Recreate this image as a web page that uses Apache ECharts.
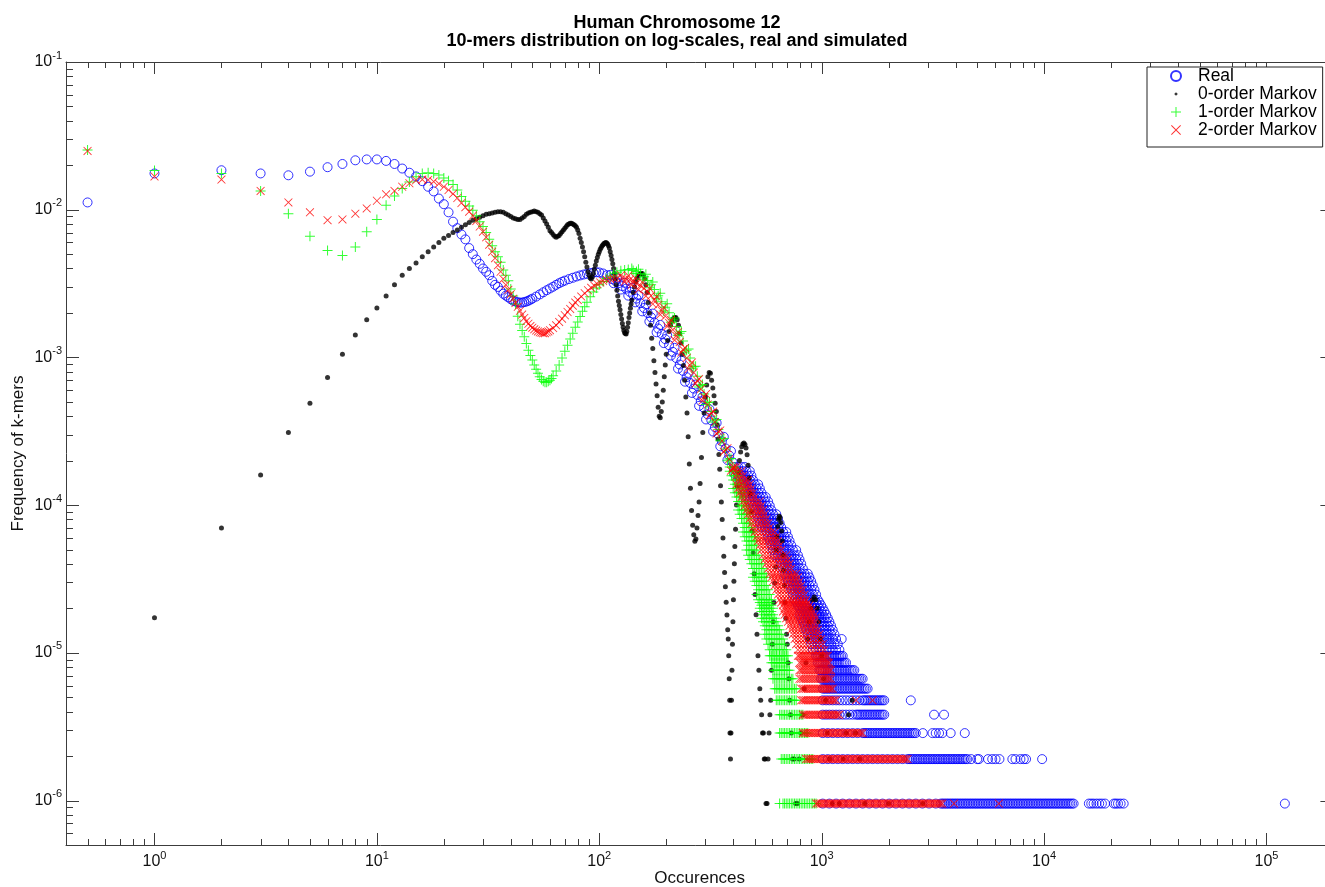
<!DOCTYPE html>
<html><head><meta charset="utf-8">
<script src="https://cdn.jsdelivr.net/npm/echarts@6/dist/echarts.min.js"></script>
<style>html,body{margin:0;padding:0;background:#fff;overflow:hidden}#c{width:1325px;height:887px}</style>
</head><body><div id="c"></div>
<script>
// total number of possible 10-mers (4^10): converts k-mer counts into frequencies
const KMERS = 1048576;

// ---- tick labels / decades ----
const xDecades = [1, 10, 100, 1000, 10000, 100000];
const yDecades = [1e-6, 1e-5, 1e-4, 1e-3, 1e-2, 1e-1];
const xMinorBases = [0.1, 1, 10, 100, 1000, 10000];
const yMinorBases = [1e-7, 1e-6, 1e-5, 1e-4, 1e-3, 1e-2];
const minorMultipliers = [2, 3, 4, 5, 6, 7, 8, 9];

// ---- Real: [occurrences, frequency] ----
const realFreq = [
[0.5,0.0112],[1,0.0176],[2,0.0185],[3,0.0176],[4,0.0171],[5,0.0181],[6,0.0194],[7,0.0204],[8,0.0216],[9,0.0219],[10,0.0219],[11,0.0214],[12,0.0204],[13,0.019],[14,0.0178],[15,0.0168],[16,0.0156],[17,0.0143],[18,0.0133],[19,0.0119],[20,0.0109],[21,0.0096],[22,0.0083],[23,0.0075],[24,0.0068],[25,0.0063],[26,0.0055],[27,0.005],[28,0.0046],[29,0.0043],[30,0.004],[31,0.0038],[32,0.0036],[33,0.0033],[34,0.0031],[35,0.003],[36,0.00283],[37,0.0027],[38,0.00262],[39,0.00255],[40,0.00248],[41,0.00242],[42,0.00239],[43,0.00236],[44,0.00235],[45,0.00235],[46,0.00237],[47,0.00239],[48,0.00242],[49,0.00246],[50,0.0025],[52,0.00258],[54,0.00267],[56,0.00276],[58,0.00285],[60,0.00293],[62,0.00301],[64,0.0031],[66,0.00318],[68,0.00325],[70,0.00331],[73,0.00339],[76,0.00346],[79,0.00353],[82,0.00359],[85,0.00364],[88,0.00368],[91,0.00372],[94,0.00375],[97,0.00377],[100,0.00376],[104,0.0037],[108,0.0036],
[112,0.00362],[116,0.00318],[120,0.00345],[125,0.00288],[130,0.0032],[135,0.00262],[140,0.00295],[145,0.00236],[150,0.00263],[156,0.00205],[162,0.00228],[168,0.00175],[174,0.00198],[181,0.00148],[188,0.00166],[195,0.00125],[202,0.00141],[210,0.00103],[218,0.00116],[226,0.00084],[234,0.00095],[243,0.000685],[252,0.000785],[261,0.000575],[271,0.000655],[281,0.00047],[291,0.00054],[302,0.00038],[313,0.000445],[325,0.000315],[337,0.00036],[350,0.00025],[363,0.00029],[377,0.000202],[391,0.000232],[405,0.000163],
[114,0.0034],[118,0.0033],[122,0.00318],[127,0.00304],[132,0.00292],[137,0.00278],[142,0.00265],[147,0.0025],[153,0.00233],[159,0.00216],[165,0.002],[171,0.00187],[177,0.00172],[184,0.00157],[191,0.00144],[198,0.00133],[206,0.00121],[214,0.00109],[222,0.00099],[230,0.000895],[238,0.00081],[247,0.000735],[256,0.000672],[266,0.000615],[276,0.000557],[286,0.000505],[296,0.000455],[307,0.000412],[319,0.000375],[331,0.000337],[343,0.000302],[356,0.00027],[370,0.000242],[384,0.000217],[398,0.000195]
];
// Real, low counts: [k-mer count, occurrences...]
const realRows = [
[190,407,421,436,451],[178,414,428,443,459,475],[166,421,436,451,467,483],[155,428,443,459,475,491],[145,436,451,467,483,500,518],[136,443,459,475,491,509,527],[127,451,467,483,500,518,536],[119,459,475,491,509,527,545,560],[111,474,483,500,518,536,555,574],[104,491,509,527,545,564,584],[97,500,518,536,555,574,594],[91,509,527,545,564,584,604,625],[85,518,536,555,574,594,615,636],[79,527,545,564,584,604,625,647],[74,536,555,574,594,615,636,658],[69,564,584,604,625,647,670,693],[64,574,594,615,636,658,681,705],[60,584,604,625,647,670,693,717],[56,594,615,636,658,681,705,730],[52,604,625,647,670,693,717,742,768],[48,615,636,658,681,705,730,755,782],[45,647,670,693,717,742,768,795],[42,658,681,705,730,755,782,809],[39,670,693,717,742,768,795,823],[36,681,705,730,755,782,809,837,866],[34,693,717,742,768,795,823,851,881],[32,705,730,755,782,809,837,866,897],[30,717,742,768,795,823,851,881,912],[28,730,755,782,809,837,866,897,928],[26,742,768,795,823,851,881,912,944],[24,755,782,809,837,866,897,928,960],[23,768,795,823,851,881,912,944,977],[22,782,809,837,866,897,928,960,994],[21,795,823,851,881,912,944,977,1011],[20,809,837,866,897,928,960,994,1029],[19,795,823,851,881,912,944,977,1011,1047],[18,809,837,866,897,928,960,994,1029,1065],[17,823,851,881,912,944,977,1011,1047,1083],[16,837,866,897,928,960,994,1029,1065,1102],[15,851,881,912,944,977,1011,1047,1083,1121],[14,866,897,928,960,994,1029,1065,1102,1141],[13,881,912,944,977,1011,1047,1083,1121,1161,1230],[12,897,928,960,994,1029,1065,1102,1141,1181],[11,912,944,977,1011,1047,1083,1121,1161,1201],
[10,944,960,977,994,1011,1029,1047,1065,1083,1102,1121,1141,1161,1181,1201,1222,1243],
[9,960,977,994,1011,1029,1047,1065,1083,1102,1121,1141,1161,1181,1201,1222,1243,1265,1287],
[8,977,994,1011,1029,1047,1065,1083,1102,1121,1141,1161,1181,1201,1222,1243,1265,1287,1309,1332,1355,1378,1402],
[7,994,1011,1029,1047,1065,1083,1102,1121,1141,1161,1181,1201,1222,1243,1265,1287,1309,1332,1355,1378,1402,1426,1451,1476,1502,1528],
[6,1011,1029,1047,1065,1083,1102,1121,1141,1161,1181,1201,1222,1243,1265,1287,1309,1332,1355,1378,1402,1426,1451,1476,1502,1528,1555,1581,1609],
[5,1011,1047,1083,1121,1161,1201,1243,1287,1332,1378,1426,1476,1528,1555,1581,1609,1637,1665,1694,1724,1754,1784,1815,1846,1878,1911,2516],
[4,1011,1047,1083,1121,1161,1201,1243,1287,1332,1378,1426,1451,1476,1502,1528,1555,1581,1609,1637,1665,1694,1724,1754,1784,1815,1846,1878,1911,3202,3550],
[3,1011,1065,1121,1181,1243,1309,1378,1451,1528,1555,1581,1609,1637,1665,1694,1724,1754,1784,1815,1846,1878,1911,1944,1978,2012,2047,2083,2119,2156,2193,2231,2270,2309,2349,2390,2431,2473,2516,2560,2604,2650,2850,3150,3258,3372,3490,3803,4400],
[2,1011,1065,1121,1181,1243,1309,1378,1451,1528,1609,1694,1784,1878,1978,2083,2193,2309,2431,2473,2516,2560,2604,2650,2696,2743,2790,2839,2888,2938,2989,3041,3093,3147,3202,3258,3314,3372,3430,3490,3550,3612,3674,3738,3803,3869,3936,4005,4074,4145,4216,4290,4364,4440,4516,4700,5007,5095,5600,5846,6051,6300,7200,7439,7831,8105,8300,9800],
[1,1011,1083,1161,1243,1332,1426,1528,1637,1754,1878,2012,2156,2309,2473,2650,2839,3041,3258,3430,3490,3550,3612,3674,3738,3803,3869,3936,4005,4074,4145,4216,4290,4364,4440,4516,4595,4674,4756,4838,4922,5007,5095,5183,5273,5364,5458,5552,5649,5746,5846,5947,6051,6155,6263,6371,6482,6594,6709,6825,6944,7063,7187,7311,7439,7567,7699,7831,7969,8105,8248,8389,8536,8683,8835,8987,9144,9301,9464,9627,9796,9964,10139,10313,10493,10674,10861,11047,11241,11434,11634,11834,12041,12248,12463,12677,12899,13121,13351,13580,15900,16300,16700,17200,17700,18200,18800,20600,21000,21500,22100,22800,121000]
];

// ---- 0-order Markov: [occurrences, frequency] then [occurrences, count] ----
const blackFreq = [
[1,1.73e-5],[2,7.0e-5],[3,1.6e-4],[4,3.1e-4],[5,4.9e-4],[6,7.3e-4],[7,1.05e-3],[8,1.42e-3],[9,1.8e-3],[10,2.16e-3],[11,2.6e-3],[12,3.1e-3],[13,3.6e-3],[14,4.0e-3],[15,4.35e-3],[16,4.8e-3],[17,5.2e-3],[18,5.6e-3],[19,6.0e-3],[20,6.4e-3],[21,6.7e-3],[22,7.0e-3],[23,7.3e-3],[24,7.6e-3],[25,7.9e-3],[26,8.2e-3],[27,8.5e-3],[28,8.7e-3],[29,8.9e-3],[30,9.1e-3],[31,9.3e-3],[32,9.4e-3],[33,9.5e-3],[34,9.6e-3],[35,9.7e-3],[36,9.7e-3],[37,9.6e-3],[38,9.4e-3],[39,9.2e-3],[40,9.0e-3],[41,8.8e-3],[42,8.7e-3],[43,8.6e-3],[44,8.6e-3],[45,8.8e-3],[46,9.0e-3],[47,9.3e-3],[48,9.5e-3],[49,9.6e-3],[50,9.7e-3],[51,9.8e-3],[52,9.7e-3],[53,9.6e-3],[54,9.4e-3],[55,9.2e-3],[56,8.8e-3],[57,8.4e-3],[58,8.0e-3],[59,7.6e-3],[60,7.2e-3],[61,7.0e-3],[62,6.8e-3],[63,6.6e-3],[64,6.5e-3],[65,6.6e-3],[66,6.7e-3],[67,6.9e-3],[68,7.1e-3],[69,7.3e-3],[70,7.5e-3],[71,7.7e-3],[72,7.9e-3],[73,8.0e-3],[74,8.1e-3],[75,8.1e-3],[76,8.0e-3],[77,7.9e-3],[78,7.8e-3],[79,7.6e-3],[80,7.3e-3],[81,6.9e-3],[82,6.4e-3],[83,6.0e-3],[84,5.6e-3],[85,5.2e-3],[86,4.8e-3],[87,4.4e-3],[88,4.1e-3],[89,3.8e-3],[90,3.6e-3],[91,3.45e-3],[92,3.4e-3],[93,3.5e-3],[94,3.7e-3],[95,3.95e-3],[96,4.2e-3],[97,4.5e-3],[98,4.75e-3],[99,5.0e-3],[100,5.2e-3],[101,5.4e-3],[102,5.55e-3],[103,5.7e-3],[104,5.8e-3],[105,5.9e-3],[106,5.95e-3],[107,6.0e-3],[108,5.95e-3],[109,5.85e-3],[110,5.7e-3],[111,5.5e-3],[112,5.2e-3],[113,4.9e-3],[114,4.6e-3],[115,4.3e-3],[116,4.0e-3],[117,3.7e-3],[118,3.4e-3],[119,3.1e-3],[120,2.85e-3],[121,2.6e-3],[122,2.4e-3],[123,2.25e-3],[124,2.1e-3],[125,1.95e-3],[126,1.82e-3],[127,1.7e-3],[128,1.6e-3],[129,1.52e-3],[130,1.47e-3],[131,1.45e-3],[132,1.44e-3],[133,1.5e-3],[134,1.6e-3],[135,1.72e-3],[136,1.86e-3],[137,2.0e-3],[138,2.15e-3],[139,2.3e-3],[140,2.45e-3],[142,2.75e-3],[144,3.0e-3],[146,3.25e-3],[148,3.45e-3],[150,3.6e-3],[152,3.68e-3],[154,3.72e-3],[156,3.7e-3],[158,3.6e-3],[160,3.4e-3],[162,3.1e-3],[164,2.75e-3],[166,2.35e-3],[168,2.0e-3],[170,1.65e-3],[172,1.35e-3],[174,1.15e-3],[176,9.5e-4],[178,7.9e-4],[180,6.6e-4],[182,5.5e-4],[184,4.6e-4],[186,4.0e-4],[188,3.9e-4],[190,4.3e-4],[192,5.0e-4],[194,6.0e-4],[196,7.4e-4],[198,8.9e-4],[200,1.05e-3],[203,1.3e-3],[206,1.5e-3],[209,1.65e-3],[212,1.76e-3],[215,1.83e-3],[218,1.86e-3],[221,1.86e-3],[224,1.8e-3],[227,1.65e-3],[230,1.45e-3],[233,1.25e-3],[236,1.05e-3],[239,8.8e-4],[242,7.0e-4],[245,5.4e-4],[248,4.2e-4],[251,2.9e-4],[254,1.9e-4],[257,1.3e-4],[260,9.2e-5],[263,7.3e-5],[266,6.3e-5],[269,5.7e-5],[272,5.9e-5],[275,7.0e-5],[278,8.5e-5],[281,1.05e-4],[284,1.4e-4],[288,2.1e-4],[292,3.1e-4],[296,4.2e-4],[300,5.4e-4],[304,6.5e-4],[308,7.4e-4],[312,7.9e-4],[316,7.8e-4],[320,7.0e-4],[324,6.2e-4],[328,5.5e-4],[332,4.9e-4],[336,4.3e-4],[339,3.5e-4],[342,2.8e-4],[345,2.2e-4],[348,1.75e-4],[351,1.35e-4],[354,1.05e-4],[357,8.0e-5],[360,6.0e-5],[363,4.5e-5],[366,3.5e-5],[369,2.8e-5],[372,2.2e-5],[375,1.8e-5]
];
const blackCount = [
[378,15],[380,13],[382,10],[384,7],[386,5],[387,3],[389,2],[391,3],[393,5],[395,8],[397,12],[399,17],[401,24],[403,32],[405,42],[407,55],[410,72],[414,105],[418,140],[422,175],[427,210],[432,240],[437,260],[442,272],[447,276],[452,270],[457,255],[462,230],[467,195],[472,160],[477,125],[482,95],[487,70],[492,50],[497,36],[502,26],[507,19],[512,14],[517,10],[522,8],[527,6],[532,5],[537,4],[542,3],[547,3],[552,2],[557,2],[562,1],[568,1],[574,2],[580,3],[585,4],[590,5],[595,8],[600,12],[605,17],[610,23],[615,31],[620,40],[625,52],[630,64],[635,75],[640,84],[645,88],[650,86],[655,80],[660,70],[665,60],[670,48],[675,38],[680,30],[685,23],[690,18],[695,14],[700,12],[706,9],[712,7],[718,5],[724,4],[730,3],[740,2],[752,2],[764,1],[778,1],[792,2],[806,3],[820,4],[835,6],[850,9],[865,13],[880,17],[895,21],[910,24],[925,25],[940,24],[955,21],[970,17],[985,13],[1000,10],[1020,7],[1040,5],[1060,3],[1085,2],[1115,1],[1200,1],[1250,2],[1290,3],[1320,4],[1370,5],[1420,3],[1480,2],[1560,1],[2000,1],[2850,1]
];

// ---- 1-order Markov ----
const greenFreq = [
[0.5,0.0254],[1,0.0184],[2,0.0176],[3,0.0134],[4,0.0094],[5,0.0066],[6,0.0053],[7,0.0049],[8,0.0056],[9,0.0071],[10,0.0086],[11,0.0107],[12,0.0124],[13,0.0139],[14,0.0154],[15,0.0167],[16,0.0176],[17,0.0178],[18,0.0176],[19,0.0172],[20,0.0164],[21,0.0157],[22,0.0148],[23,0.0136],[24,0.0123],[25,0.0114],[26,0.0106],[27,0.0099],[28,0.0091],[29,0.0083],[30,0.0077],[31,0.007],[32,0.0063],[33,0.0057],[34,0.0052],[35,0.0048],[36,0.0044],[37,0.0039],[38,0.0036],[39,0.0033],[40,0.0029],[41,0.0026],[42,0.0023],[43,0.0019],[44,0.00168],[45,0.00152],[46,0.00138],[47,0.00124],[48,0.00112],[49,0.00103],[50,0.00096],[51,0.00089],[52,0.00083],[53,0.00078],[54,0.00074],[55,0.00071],[56,0.00069],[57,0.00068],[58,0.00068],[59,0.00069],[60,0.0007],[61,0.00072],[62,0.00075],[64,0.00081],[66,0.00089],[68,0.00099],[70,0.0011],[72,0.00121],[74,0.00133],[76,0.00146],[78,0.0016],[80,0.00174],[82,0.00189],[84,0.00205],[86,0.0022],[88,0.00236],[91,0.00257],[94,0.00277],[97,0.00295],[100,0.0031],[104,0.00327],[108,0.00342],[112,0.00356],[116,0.00368],[120,0.00377],[125,0.00386],[130,0.00391],[135,0.00393],
[140,0.004],[145,0.0037],[150,0.00395],[156,0.00338],[162,0.00366],[168,0.00296],[174,0.00324],[181,0.0025],[188,0.00272],[195,0.00206],[202,0.00231],[210,0.00173],[218,0.00185],[226,0.00141],[234,0.0015],[243,0.00109],[252,0.00114],[261,0.000845],[271,0.00087],[281,0.00063],[291,0.000655],[302,0.00048],[313,0.0005],[325,0.000365],[337,0.00038],[350,0.000273],[363,0.000283],[377,0.0002],[391,0.000207],
[142,0.00388],[147,0.00382],[153,0.00368],[159,0.00351],[165,0.00332],[171,0.00311],[177,0.00288],[184,0.00262],[191,0.00238],[198,0.00219],[206,0.00201],[214,0.0018],[222,0.00162],[230,0.00146],[238,0.00129],[247,0.00112],[256,0.00099],[266,0.000865],[276,0.000745],[286,0.000645],[296,0.000565],[307,0.000495],[319,0.00043],[331,0.000375],[343,0.000325],[356,0.00028],[370,0.00024],[384,0.000205]
];
const greenRows = [
[190,386,397,407],[178,386,400,414],[166,393,407,421],[155,400,414,428],[145,407,421,436],[136,400,414,428,443],[127,407,421,436,450],[119,414,428,443],[111,421,436,451],[104,428,443,459],[97,421,436,451,467],[91,428,443,459,475],[85,436,451,467],[79,443,459,475],[74,451,467,483],[69,443,459,475,491],[64,451,467,483,500],[60,459,475,491,507],[56,467,483,500],[52,459,475,491,509],[48,467,483,500,518],[45,475,491,509,527],[42,483,500,518,536],[39,491,509,527,545],[36,500,518,536,555],[34,491,509,527,545,564],[32,500,518,536,555],[30,509,527,545,564],[28,518,536,555,574],[26,509,527,545,564,584],[24,518,536,555,574,594],[23,527,545,564,584],[22,536,555,574,594],[21,527,545,564,584,604],[20,536,555,574,594],[19,545,564,584,604],[18,536,555,574,594,615],[17,545,564,584,604,625],[16,555,574,594,615,636],[15,564,584,604,625,647],[14,555,574,594,615,636,658],[13,564,584,604,625,647,670],[12,574,594,615,636,658,681],[11,584,604,625,647,670,693],
[10,584,594,604,615,625,636,647,658,670,681,693,705],
[9,594,604,615,625,636,647,658,670,681,693,705],
[8,604,615,625,636,647,658,670,681,693,705,717],
[7,604,615,625,636,647,658,670,681,693,705,717,730,742],
[6,615,625,636,647,658,670,681,693,705,717,730,742,755,768],
[5,625,636,647,658,670,681,693,705,717,730,742,755,768],
[4,647,658,670,681,693,705,717,730,742,755,768,782,795,809,823],
[3,647,658,670,681,693,705,717,730,742,755,768,782,795,809,823,837,851,866],
[2,658,670,681,693,705,717,730,742,755,768,782,795,809,823,837,851,866,881,897,912],
[1,647,670,681,693,705,717,730,742,755,768,782,795,809,823,837,851,866,881,897,912,928,944]
];

// ---- 2-order Markov ----
const redFreq = [
[0.5,0.025],[1,0.0168],[2,0.016],[3,0.0134],[4,0.0112],[5,0.0096],[6,0.0085],[7,0.0086],[8,0.0094],[9,0.0102],[10,0.0115],[11,0.0127],[12,0.0134],[13,0.0143],[14,0.0151],[15,0.0158],[16,0.016],[17,0.0159],[18,0.0155],[19,0.015],[20,0.0143],[21,0.0136],[22,0.0128],[23,0.012],[24,0.0111],[25,0.0104],[26,0.0097],[27,0.0091],[28,0.0084],[29,0.0077],[30,0.0071],[31,0.0065],[32,0.0058],[33,0.0052],[34,0.0047],[35,0.0042],[36,0.0038],[37,0.0034],[38,0.0031],[39,0.00287],[40,0.00268],[41,0.0025],[42,0.00234],[43,0.0022],[44,0.00207],[45,0.00195],[46,0.00185],[47,0.00176],[48,0.00169],[49,0.00163],[50,0.00159],[51,0.00155],[52,0.00152],[53,0.0015],[54,0.00148],[55,0.00147],[56,0.00146],[57,0.00146],[58,0.00148],[59,0.0015],[60,0.00153],[62,0.00158],[64,0.00165],[66,0.00174],[68,0.00183],[70,0.00193],[72,0.00203],[74,0.00213],[76,0.00224],[78,0.00235],[80,0.00245],[83,0.00258],[86,0.00272],[89,0.00285],[92,0.00296],[95,0.00306],[98,0.00314],[101,0.00322],[104,0.00329],[108,0.00335],[112,0.0034],[116,0.00343],[120,0.00345],
[125,0.0036],[130,0.00325],[135,0.00358],[140,0.0031],[145,0.00345],[150,0.00288],[156,0.00324],[162,0.0026],[168,0.00294],[174,0.0023],[181,0.00258],[188,0.00195],[195,0.00218],[202,0.00162],[210,0.00179],[218,0.00131],[226,0.00148],[234,0.00108],[243,0.00116],[252,0.000835],[261,0.000925],[271,0.000665],[281,0.000715],[291,0.00051],[302,0.000565],[313,0.000405],[325,0.00043],[337,0.000305],[350,0.00032],[363,0.00023],[377,0.000243],[391,0.000171],[405,0.00018],
[127,0.00345],[132,0.00341],[137,0.00335],[142,0.00327],[147,0.00318],[153,0.00306],[159,0.00293],[165,0.00278],[171,0.00262],[177,0.00245],[184,0.00226],[191,0.00207],[198,0.0019],[206,0.00171],[214,0.00154],[222,0.0014],[230,0.00127],[238,0.00113],[247,0.00099],[256,0.000885],[266,0.00079],[276,0.000695],[286,0.00061],[296,0.00054],[307,0.00048],[319,0.00042],[331,0.000365],[343,0.000315],[356,0.000272],[370,0.000237],[384,0.000205],[398,0.000177]
];
const redRows = [
[190,400,414],[178,407,421,436],[166,414,428,443],[155,421,436,451,467],[145,414,428,443,459,475],[136,421,436,451,467,483],[127,428,443,459,475,491],[119,436,451,467,483,500],[111,443,459,475,491,509,527],[104,451,467,483,500,518,536],[97,459,475,491,509,527,545],[91,467,483,500,518,536,555],[85,475,491,509,527,545,564],[79,483,500,518,536,555,574],[74,491,509,527,545,564,584],[69,500,518,536,555,574,594,615],[64,509,527,545,564,584,604,625],[60,518,536,555,574,594,615,636],[56,527,545,564,584,604,625,647],[52,536,555,574,594,615,636,658],[48,545,564,584,604,625,647,670,693],[45,555,574,594,615,636,658,681,705],[42,564,584,604,625,647,670,693,717],[39,574,594,615,636,658,681,705,730],[36,584,604,625,647,670,693,717,742,768],[34,594,615,636,658,681,705,730,755,782],[32,604,625,647,670,693,717,742,768,795],[30,615,636,658,681,705,730,755,782,809],[28,625,647,670,693,717,742,768,795,823],[26,636,658,681,705,730,755,782,809,837],[24,647,670,693,717,742,768,795,823,851],[23,658,681,705,730,755,782,809,837,866],[22,670,693,717,742,768,795,823,851,881],[21,681,705,730,755,782,809,837,866,897],[20,670,693,717,742,768,795,823,851,881,912],[19,681,705,730,755,782,809,837,866,897,928],[18,693,717,742,768,795,823,851,881,912,938],[17,705,730,755,782,809,837,866,897,928],[16,717,742,768,795,823,851,881,912,944],[15,730,755,782,809,837,866,897,928,960],[14,742,768,795,823,851,881,912,944,977],[13,755,782,809,837,866,897,928,960,994],[12,768,795,823,851,881,912,944,977,1011],[11,782,809,837,866,897,928,960,994,1029],
[10,782,795,809,823,837,851,866,881,897,912,928,944,960,977,994,1011,1029,1047,1065],
[9,795,809,823,837,851,866,881,897,912,928,944,960,977,994,1011,1029,1047,1065,1083],
[8,795,809,823,837,851,866,881,897,912,928,944,960,977,994,1011,1029,1047,1065,1083,1102],
[7,795,809,823,837,851,866,881,897,912,928,944,960,977,994,1011,1029,1047,1065,1083,1102],
[6,809,823,837,851,866,881,897,912,928,944,960,977,994,1011,1029,1047,1065,1083,1102,1121],
[5,809,823,837,851,866,881,897,912,928,944,960,977,994,1011,1029,1047,1065,1083,1102,1121,1141,1161,1426,1694],
[4,823,837,851,866,881,897,912,928,944,960,977,994,1011,1029,1047,1065,1083,1102,1121,1141,1161,1181,1201],
[3,823,837,851,866,881,897,912,928,944,960,977,994,1011,1029,1047,1065,1083,1102,1121,1141,1161,1181,1201,1222,1243,1265,1287,1309,1332,1355,1378,1402,1426,1451,1476,1502,1528],
[2,851,866,881,897,912,928,944,960,977,994,1011,1029,1047,1065,1083,1102,1121,1141,1161,1181,1201,1222,1243,1265,1287,1309,1332,1355,1378,1402,1426,1451,1476,1502,1528,1555,1581,1609,1637,1665,1694,1724,1754,1784,1815,1846,1878,1911,1944,1978,2012,2047,2083,2119,2156,2193,2231,2270,2309,2349,2390,2431],
[1,944,960,977,994,1011,1029,1047,1065,1083,1102,1121,1141,1161,1181,1201,1222,1243,1265,1287,1309,1332,1355,1378,1402,1426,1451,1476,1502,1528,1555,1581,1609,1637,1665,1694,1724,1754,1784,1815,1846,1878,1911,1944,1978,2012,2047,2083,2119,2156,2193,2231,2270,2309,2349,2390,2431,2473,2516,2560,2604,2650,2696,2743,2790,2839,2888,2938,2989,3041,3093,3147,3202,3258,3314,3372,3430,3490,3936,6263]
];

// ---------------- build ----------------
function rowsToPoints(rows) {
  const pts = [];
  rows.forEach(r => { for (let i = 1; i < r.length; i++) pts.push([r[i], r[0] / KMERS]); });
  return pts;
}
const realData = realFreq.concat(rowsToPoints(realRows));
const blackData = blackFreq.concat(blackCount.map(p => [p[0], p[1] / KMERS]));
const greenData = greenFreq.concat(rowsToPoints(greenRows));
const redData = redFreq.concat(rowsToPoints(redRows));

const X_MIN = 0.4, X_MAX = 2e5, Y_MIN = 5e-7, Y_MAX = 0.1;
const FONT = 'Liberation Sans, Arial, sans-serif';
const AXIS_COLOR = '#3c3c3c';

const tickData = [];
xDecades.forEach(v => tickData.push([v, 1e-3, 0]));
xMinorBases.forEach(b => minorMultipliers.forEach(m => { const v = b * m; if (v > X_MIN * 1.001 && v < X_MAX * 0.999) tickData.push([v, 1e-3, 1]); }));
yDecades.forEach(v => tickData.push([1, v, 2]));
yMinorBases.forEach(b => minorMultipliers.forEach(m => { const v = b * m; if (v > Y_MIN * 1.001 && v < Y_MAX * 0.999) tickData.push([1, v, 3]); }));

function powLabel(v) {
  const e = Math.log10(v), r = Math.round(e);
  if (Math.abs(e - r) > 1e-6) return '';
  return '{b|10}{s|' + r + '}';
}
const labelRich = {
  b: {fontSize: 16, lineHeight: 24, fontFamily: FONT, color: '#111'},
  s: {fontSize: 11, lineHeight: 11, verticalAlign: 'top', fontFamily: FONT, color: '#111'}
};

const PLUS = 'path://M0,4.5H10V5.5H0Z M4.5,0H5.5V10H4.5Z';
const CROSS = 'path://M0.7,0L5,4.3L9.3,0L10,0.7L5.7,5L10,9.3L9.3,10L5,5.7L0.7,10L0,9.3L4.3,5L0,0.7Z';
const DOT_ICON = 'path://M0,0M10,10M5,3.2L6.8,5L5,6.8L3.2,5Z';

function renderTicks(params, api) {
  const cs = params.coordSys;
  const kind = api.value(2);
  const style = {stroke: AXIS_COLOR, lineWidth: 1};
  const ch = [];
  if (kind < 2) {
    const len = kind === 0 ? 12 : 6;
    const px = Math.round(api.coord([api.value(0), 1e-3])[0]) + 0.5;
    const yb = cs.y + cs.height, yt = cs.y;
    ch.push({type: 'line', shape: {x1: px, y1: yb, x2: px, y2: yb - len}, style});
    ch.push({type: 'line', shape: {x1: px, y1: yt, x2: px, y2: yt + len}, style});
  } else {
    const len = kind === 2 ? 13 : 7;
    const py = Math.round(api.coord([1, api.value(1)])[1]) + 0.5;
    const xl = cs.x, xr = cs.x + cs.width;
    ch.push({type: 'line', shape: {x1: xl, y1: py, x2: xl + len, y2: py}, style});
    ch.push({type: 'line', shape: {x1: xr, y1: py, x2: xr - len, y2: py}, style});
  }
  return {type: 'group', children: ch};
}

const chart = echarts.init(document.getElementById('c'), null, {renderer: 'canvas'});
chart.setOption({
  animation: false,
  backgroundColor: '#fff',
  title: {
    text: 'Human Chromosome 12\n10-mers distribution on log-scales, real and simulated',
    left: 672, top: 9, textAlign: 'center',
    textStyle: {fontSize: 18, fontWeight: 'bold', lineHeight: 18, fontFamily: FONT, color: '#000'}
  },
  legend: {
    data: [
      {name: 'Real'},
      {name: '0-order Markov', icon: DOT_ICON},
      {name: '1-order Markov'},
      {name: '2-order Markov'}
    ],
    orient: 'vertical', left: 1147, top: 67,
    itemWidth: 10, itemHeight: 10, itemGap: 0,
    padding: [0, 6, 8, 23],
    borderColor: '#222', borderWidth: 1, backgroundColor: '#fff',
    selectedMode: false,
    textStyle: {fontSize: 17.5, lineHeight: 18, fontFamily: FONT, color: '#000', padding: [0, 0, 0, 12]}
  },
  grid: {left: 66, right: -8.4, top: 62, bottom: 42, containLabel: false, outerBoundsMode: 'none'},
  xAxis: [
    {type: 'log', min: X_MIN, max: X_MAX, position: 'bottom',
     name: 'Occurences', nameLocation: 'middle', nameGap: 25, nameMoveOverlap: false,
     nameTextStyle: {fontSize: 17, fontFamily: FONT, color: '#111'},
     axisLine: {show: true, lineStyle: {color: AXIS_COLOR, width: 1}},
     axisTick: {show: false}, splitLine: {show: false}, minorTick: {show: false},
     axisLabel: {formatter: powLabel, rich: labelRich, margin: 5, hideOverlap: false}},
    {type: 'log', min: X_MIN, max: X_MAX, position: 'top',
     axisLine: {show: true, lineStyle: {color: AXIS_COLOR, width: 1}},
     axisTick: {show: false}, splitLine: {show: false}, axisLabel: {show: false}}
  ],
  yAxis: [
    {type: 'log', min: Y_MIN, max: Y_MAX, position: 'left',
     name: 'Frequency of k-mers', nameLocation: 'middle', nameGap: 39, nameMoveOverlap: false,
     nameTextStyle: {fontSize: 17, fontFamily: FONT, color: '#111'},
     axisLine: {show: true, lineStyle: {color: AXIS_COLOR, width: 1}},
     axisTick: {show: false}, splitLine: {show: false},
     axisLabel: {formatter: powLabel, rich: labelRich, margin: 4, hideOverlap: false}},
    {type: 'log', min: Y_MIN, max: Y_MAX, position: 'right',
     axisLine: {show: true, lineStyle: {color: AXIS_COLOR, width: 1}},
     axisTick: {show: false}, splitLine: {show: false}, axisLabel: {show: false}}
  ],
  series: [
    {type: 'custom', name: 'ticks', renderItem: renderTicks, data: tickData,
     encode: {x: 0, y: 1}, silent: true, clip: false, z: 1},
    {name: 'Real', type: 'scatter', data: realData, symbol: 'circle', symbolSize: 9,
     itemStyle: {color: 'rgba(0,0,0,0)', borderColor: '#0000ff', borderWidth: 1},
     silent: true, z: 2},
    {name: '0-order Markov', type: 'scatter', data: blackData, symbol: 'circle', symbolSize: 5,
     itemStyle: {color: '#000'}, silent: true, z: 2},
    {name: '1-order Markov', type: 'scatter', data: greenData, symbol: PLUS, symbolSize: 10,
     itemStyle: {color: '#00ff00'}, silent: true, z: 2},
    {name: '2-order Markov', type: 'scatter', data: redData, symbol: CROSS, symbolSize: 8.5,
     itemStyle: {color: '#ff0000'}, silent: true, z: 2}
  ]
});
</script></body></html>
